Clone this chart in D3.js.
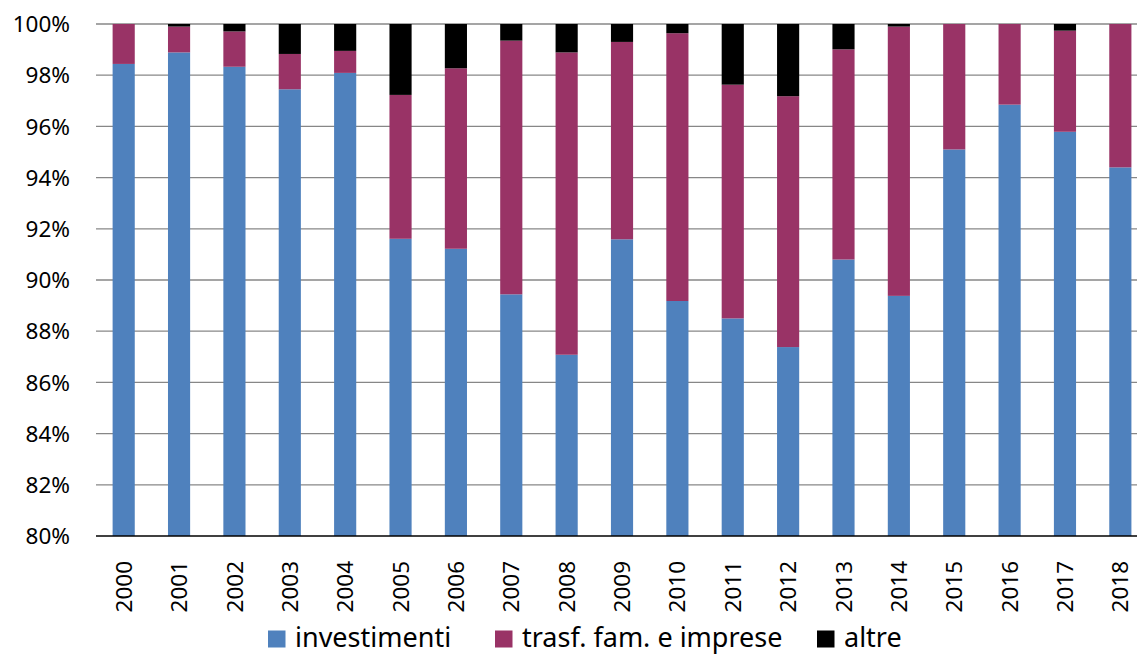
<!DOCTYPE html>
<html>
<head>
<meta charset="utf-8">
<script src="https://cdn.jsdelivr.net/npm/d3@7"></script>
<style>
  html, body { margin: 0; padding: 0; background: #fff; }
  svg { display: block; }
  text { font-family: "Noto Sans", "Open Sans", sans-serif; fill: #000; }
</style>
</head>
<body>
<svg id="chart" width="1137" height="655"></svg>
<script>
// Composition of spending (% of total), 2000-2018
const years = ["2000","2001","2002","2003","2004","2005","2006","2007","2008","2009",
               "2010","2011","2012","2013","2014","2015","2016","2017","2018"];
const investimenti = [98.44, 98.89, 98.33, 97.45, 98.09, 91.61, 91.22, 89.44, 87.08, 91.59,
                      89.18, 88.50, 87.38, 90.80, 89.38, 95.10, 96.85, 95.79, 94.40];
const trasfFamImprese = [1.56, 1.01, 1.38, 1.38, 0.86, 5.62, 7.05, 9.91, 11.81, 7.71,
                         10.46, 9.13, 9.80, 8.21, 10.52, 4.90, 3.15, 3.95, 5.60];
const altre = [0.00, 0.10, 0.29, 1.17, 1.05, 2.77, 1.73, 0.65, 1.11, 0.70,
               0.36, 2.37, 2.82, 0.99, 0.10, 0.00, 0.00, 0.26, 0.00];
const yTicks = [80, 82, 84, 86, 88, 90, 92, 94, 96, 98, 100];

const seriesNames = ["investimenti", "trasf. fam. e imprese", "altre"];
const seriesKeys = ["inv", "trasf", "altre"];
const colors = ["#4F81BD", "#993366", "#000000"];

const rows = years.map((yr, i) => ({
  year: yr, inv: investimenti[i], trasf: trasfFamImprese[i], altre: altre[i]
}));

const svg = d3.select("#chart");
const plotLeft = 96, plotTop = 24, plotBottom = 536;
const step = 55.37;
const plotRight = plotLeft + step * years.length;

const x = d3.scaleBand().domain(years).range([plotLeft, plotRight])
  .paddingInner(0.6).paddingOuter(0.3);
const y = d3.scaleLinear().domain([80, 100]).range([plotBottom, plotTop]);

svg.append("defs").append("clipPath").attr("id", "plot")
  .append("rect").attr("x", plotLeft).attr("y", plotTop)
  .attr("width", plotRight - plotLeft).attr("height", plotBottom - plotTop);

// horizontal gridlines
svg.append("g").selectAll("line").data(yTicks.filter(t => t > 80)).join("line")
  .attr("x1", plotLeft).attr("x2", plotRight)
  .attr("y1", d => y(d)).attr("y2", d => y(d))
  .attr("stroke", "#878787").attr("stroke-width", 1.3);

// stacked bars
const stacked = d3.stack().keys(seriesKeys)(rows);
svg.append("g").attr("clip-path", "url(#plot)")
  .selectAll("g").data(stacked).join("g")
  .attr("fill", (d, i) => colors[i])
  .selectAll("rect").data(d => d).join("rect")
  .attr("x", d => x(d.data.year))
  .attr("width", x.bandwidth())
  .attr("y", d => y(d[1]))
  .attr("height", d => Math.max(0, y(d[0]) - y(d[1])));

// category axis line
svg.append("line")
  .attr("x1", plotLeft).attr("x2", plotRight)
  .attr("y1", y(80)).attr("y2", y(80))
  .attr("stroke", "#000").attr("stroke-width", 1.6);

// y tick labels
svg.append("g").selectAll("text").data(yTicks).join("text")
  .attr("x", 70).attr("y", d => y(d))
  .attr("dy", "0.36em")
  .attr("text-anchor", "end")
  .style("font-size", "22.5px")
  .text(d => d + "%");

// x tick labels (rotated)
svg.append("g").selectAll("text").data(years).join("text")
  .attr("transform", d => `translate(${x(d) + x.bandwidth() / 2},561) rotate(-90)`)
  .attr("dy", "0.36em")
  .attr("text-anchor", "end")
  .style("font-size", "22.5px")
  .text(d => d);

// legend
const legendX = [268, 495, 817];
const legend = svg.append("g").selectAll("g").data(seriesNames).join("g")
  .attr("transform", (d, i) => `translate(${legendX[i]},0)`);
legend.append("rect")
  .attr("x", 0).attr("y", 630.5).attr("width", 17.5).attr("height", 17)
  .attr("fill", (d, i) => colors[i]);
legend.append("text")
  .attr("x", 27).attr("y", 647)
  .style("font-size", "27px")
  .text(d => d);
</script>
</body>
</html>
